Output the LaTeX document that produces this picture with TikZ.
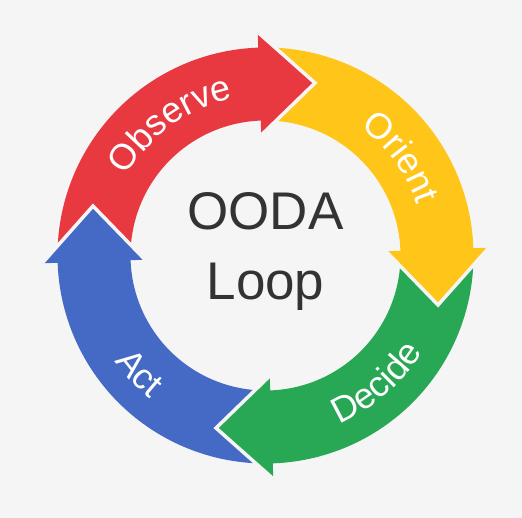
\documentclass[tikz,border=0pt]{standalone}
\usepackage{fontspec}
\setmainfont{Liberation Sans}
\definecolor{oodabg}{RGB}{245,245,245}
\definecolor{oodared}{RGB}{232,57,64}
\definecolor{oodayellow}{RGB}{255,197,24}
\definecolor{oodagreen}{RGB}{40,168,84}
\definecolor{oodablue}{RGB}{68,106,198}
\definecolor{oodatext}{RGB}{51,51,51}
\usetikzlibrary{decorations.text}
\newcommand\ringfont{\fontsize{36}{42}\selectfont\color{white}}

\begin{document}
\begin{tikzpicture}[
                    ring head/.style={
                        draw=oodabg,
                        line width=3.5pt,
                        line join=miter
                    },
                    ring label/.style={
                        decorate,
                        decoration={text along path, text align=center}
                    },
                    title text/.style={
                        font=\fontsize{53}{64}\selectfont,
                        text=oodatext,
                        inner sep=0pt,
                        anchor=base
                    }
                ]
                    \useasboundingbox (-265.5pt,-262.5pt) rectangle (256.5pt,255.5pt);
                    \fill[oodabg] (-265.5pt,-262.5pt) rectangle (256.5pt,255.5pt);
                    % ring bodies, each starts under the head before it
                    \fill[oodared] (180:208pt) arc[start angle=180, end angle=89, radius=208pt]
                        -- (89:135pt) arc[start angle=89, end angle=180, radius=135pt] -- cycle;
                    \fill[oodayellow] (90:208pt) arc[start angle=90, end angle=-1, radius=208pt]
                        -- (-1:135pt) arc[start angle=-1, end angle=90, radius=135pt] -- cycle;
                    \fill[oodagreen] (0:208pt) arc[start angle=0, end angle=-91, radius=208pt]
                        -- (-91:135pt) arc[start angle=-91, end angle=0, radius=135pt] -- cycle;
                    \fill[oodablue] (270:208pt) arc[start angle=270, end angle=179, radius=208pt]
                        -- (179:135pt) arc[start angle=179, end angle=270, radius=135pt] -- cycle;
                    % arrow heads
                    \filldraw[ring head, fill=oodared] (92:223.5pt) -- (74:179.5pt) -- (92:120.5pt);
                    \filldraw[ring head, fill=oodayellow] (2:223.5pt) -- (-16:179.5pt) -- (2:120.5pt);
                    \filldraw[ring head, fill=oodagreen] (-88:223.5pt) -- (-106:179.5pt) -- (-88:120.5pt);
                    \filldraw[ring head, fill=oodablue] (182:223.5pt) -- (164:179.5pt) -- (182:120.5pt);
                    % labels
                    \path[ring label, decoration={text={|\ringfont|Observe}}]
                        (171:160pt) arc[start angle=171, end angle=81, radius=160pt];
                    \path[ring label, decoration={text={|\ringfont|Orient}}]
                        (81:160pt) arc[start angle=81, end angle=-9, radius=160pt];
                    \path[ring label, decoration={text={|\ringfont|Decide}}]
                        (-94:184pt) arc[start angle=-94, end angle=-4, radius=184pt];
                    \path[ring label, decoration={text={|\ringfont|Act}}]
                        (178:184pt) arc[start angle=178, end angle=268, radius=184pt];
                    \node[title text] (ooda) at (0pt,25.5pt) {OODA};
                    \node[title text] (loop) at (0pt,-44.5pt) {Loop};
                \end{tikzpicture}
\end{document}
